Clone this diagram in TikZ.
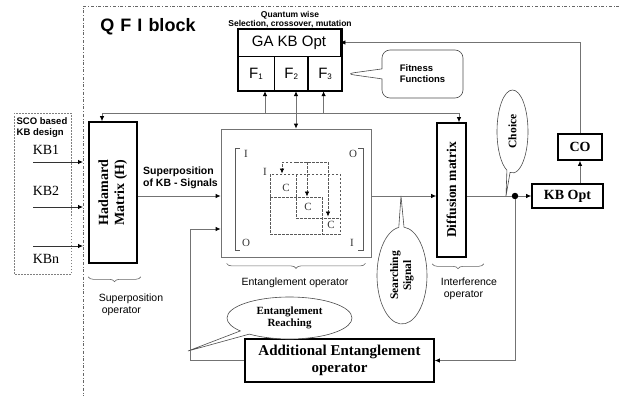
\documentclass[tikz,border=0pt]{standalone}
\usepackage{fontspec}
\setmainfont{Liberation Serif}
\setsansfont{Liberation Sans}
\usetikzlibrary{arrows,arrows.meta,calc,positioning,shapes,shapes.callouts,decorations.pathreplacing}

\tikzset{
  opbox/.style={draw, line width=1.6pt, inner sep=0pt, font=\bfseries\fontsize{14}{16}\selectfont},
  cellbox/.style={draw, line width=0.8pt, inner sep=0pt, font=\sffamily\fontsize{15}{17}\selectfont},
  wire/.style={draw=black!55, line width=0.8pt},
  dwire/.style={draw=black!65, line width=0.7pt, dash pattern=on 2.5pt off 1.5pt},
  bubble/.style={ellipse callout, draw=black!70, line width=0.6pt, fill=white, inner sep=0pt,
    callout pointer arc=12, font=\bfseries\fontsize{11.5}{13}\selectfont},
  ubrace/.style={draw=black!60, line width=0.6pt, decorate, decoration={brace, mirror, amplitude=5pt}},
  oplabel/.style={font=\sffamily\fontsize{10.5}{12}\selectfont, align=left},
  mlabel/.style={font=\fontsize{11}{12}\selectfont, text=black!80, inner sep=0pt}
}
\newcommand{\fsub}[1]{F\raisebox{-1pt}{\fontsize{8}{8}\selectfont #1}}

\begin{document}
\begin{tikzpicture}[x=1pt, y=-1pt, >={Latex[length=5pt,width=4.5pt,black]}]
\useasboundingbox (0,0) rectangle (619,396);

% QFI block frame
\draw[black!60, dash dot, line width=0.6pt] (619,6) -- (83,6) -- (83,396);
\coordinate (qfiL) at (83,0);
\node[font=\sffamily\bfseries\fontsize{18}{20}\selectfont] (qfi) at (148,27) {Q\,\,F\,\,I\,\,block};

% SCO based KB design
\draw[black!50, line width=0.6pt, dash pattern=on 1.5pt off 1.5pt] (14,113) rectangle (71,274);
\node[font=\sffamily\bfseries\fontsize{9.5}{11}\selectfont, align=left, inner sep=0pt] (sco) at (42,127.5) {SCO based\\KB design};
\foreach \k/\lab/\ty/\ay in {1/KB1/150/162, 2/KB2/191/207, n/KBn/259/246} {
  \node[font=\fontsize{14}{16}\selectfont, inner sep=0pt] (kb\k) at (46,\ty) {\lab};
  \coordinate (kbin\k) at (33,\ay);
  \draw[wire, draw=black!80, ->] (kbin\k) -- (kbin\k -| qfiL);
}

% operator blocks
\node[opbox, minimum width=48pt, minimum height=141pt] (had) at (113,192.5)
  {\rotatebox{90}{\begin{tabular}{@{}c@{}}Hadamard\\Matrix (H)\end{tabular}}};
\node[draw=black!55, line width=0.8pt, minimum width=150pt, minimum height=128pt] (ent) at (296,193) {};
\node[opbox, minimum width=29pt, minimum height=134pt, font=\bfseries\fontsize{13.5}{15}\selectfont] (diff) at (451.5,190)
  {\rotatebox{90}{Diffusion matrix}};
\node[opbox, minimum width=71pt, minimum height=24pt] (kbopt) at (567.5,196) {KB Opt};
\node[opbox, minimum width=44pt, minimum height=26pt] (co) at (580,147) {CO};
\node[opbox, minimum width=189pt, minimum height=43pt, align=center, font=\bfseries\fontsize{15}{17}\selectfont] (add) at (339.5,360.5)
  {Additional Entanglement\\operator};
\node[circle, fill, inner sep=0pt, minimum size=6.5pt] (dot) at (515,196) {};

% GA KB Opt with fitness functions
\node[cellbox, minimum width=102pt, minimum height=27pt] (ga) at (289,42.5) {GA KB Opt};
\node[cellbox, minimum width=36pt, minimum height=34pt, anchor=north west] (f1) at (ga.south west) {\fsub{1}};
\node[cellbox, minimum width=33pt, minimum height=34pt, anchor=north west] (f2) at (f1.north east) {\fsub{2}};
\node[cellbox, minimum width=33pt, minimum height=34pt, anchor=north west] (f3) at (f2.north east) {\fsub{3}};
\draw[line width=1.6pt] (ga.north west) rectangle (f3.south east);
\node[font=\sffamily\bfseries\fontsize{8.5}{9}\selectfont, align=center, inner sep=0pt] (qwise) at (290,19.5)
  {Quantum wise\\Selection, crossover, mutation};
\node[rectangle callout, draw=black!70, line width=0.6pt, rounded corners=8pt, minimum width=81pt, minimum height=48pt,
  callout pointer width=10pt, callout absolute pointer={([xshift=4pt]f3.east)},
  font=\sffamily\bfseries\fontsize{9.5}{11}\selectfont, align=left] (fit) at (422.5,74) {Fitness\\Functions};

% feedback bus
\coordinate (busL) at (102,113);
\coordinate (busR) at (459,113);
\draw[wire,<->] (busL |- had.north) -- (busL) -- (busR) -- (busR |- diff.north);
\draw[wire,->] ([xshift=9pt]f1.south |- busL) -- ([xshift=9pt]f1.south);
\draw[wire,->] ([xshift=-1.5pt]f3.south |- busL) -- ([xshift=-1.5pt]f3.south);
\draw[wire,<->] (ent.north) -- (ent.north |- f2.south);

% signal path
\draw[wire,->] (had.east |- dot) -- (ent.west |- dot);
\draw[wire,->] (ent.east |- dot) -- (diff.west |- dot);
\draw[wire] (diff.east |- dot) -- (dot);
\draw[wire,->] (dot) -- (kbopt.west);
\draw[wire,->] (dot) |- (add.east);
\coordinate (ret) at (190,229);
\draw[wire,->] (add.west) -| (ret) -- (ret -| ent.west);
\draw[wire,->] (kbopt.north -| co.south) -- (co.south);
\draw[wire,->] (co.north) |- (ga.east);

% entanglement matrix
\draw[black!65, line width=0.6pt] (240,148) -| (235,250) -- (240,250);
\draw[black!65, line width=0.6pt] (358,148) -| (363,250) -- (358,250);
\node[mlabel] (mI1) at (246,154) {I};
\node[mlabel] (mO1) at (353,154) {O};
\node[mlabel] (mO2) at (246,243) {O};
\node[mlabel] (mI2) at (352,243) {I};
\node[mlabel] (mI3) at (265,172) {I};
\draw[dwire,->] (296,162) -| (282,173.5);
\draw[dwire,->] (296,162) -| (328,216.5);
\draw[dwire,->] (307,162) -- (307,196.5);
\draw[dwire] (270,174) rectangle (340,234);
\draw[dwire] (296,174) -- (296,218) -- (340,218);
\draw[dwire] (270,197) -- (322,197) -- (322,234);
\node[mlabel] (c1) at (286,188) {C};
\node[mlabel] (c2) at (308,207) {C};
\node[mlabel] (c3) at (331,225) {C};

% braces and operator names
\draw[ubrace] ([yshift=-13pt]had.south west) -- ([yshift=-13pt,xshift=3pt]had.south east);
\draw[ubrace] ([yshift=-6pt,xshift=6pt]ent.south west) -- ([yshift=-6pt,xshift=-6pt]ent.south east);
\draw[ubrace] ([yshift=-6pt,xshift=-4pt]diff.south west) -- ([yshift=-6pt,xshift=17pt]diff.south east);
\node[oplabel] (suplab) at (131,304.5) {Superposition\\\ operator};
\node[oplabel] (entlab) at (295,283) {Entanglement operator};
\node[oplabel] (intlab) at (469,288.5) {Interference\\\ operator};
\node[font=\sffamily\bfseries\fontsize{10.5}{12}\selectfont, align=left] (sigKB) at (180.5,178) {Superposition\\of KB - Signals};

% callouts
\coordinate (chtip) at (506,196);
\coordinate (sstip) at (401,196);
\coordinate (ertip) at (188,351);
\node[bubble, minimum width=31pt, minimum height=83pt, callout absolute pointer={(chtip)}] (choice) at (512.5,131.5)
  {\rotatebox{90}{Choice}};
\node[bubble, minimum width=50pt, minimum height=97pt, callout absolute pointer={(sstip)}] (search) at (402,275.5)
  {\rotatebox{90}{\begin{tabular}{@{}c@{}}Searching\\Signal\end{tabular}}};
\node[bubble, minimum width=125pt, minimum height=42pt, callout absolute pointer={(ertip)}, align=center,
  font=\bfseries\fontsize{11}{12}\selectfont] (reach) at (289.5,318) {Entanglement\\Reaching};
\end{tikzpicture}
\end{document}
